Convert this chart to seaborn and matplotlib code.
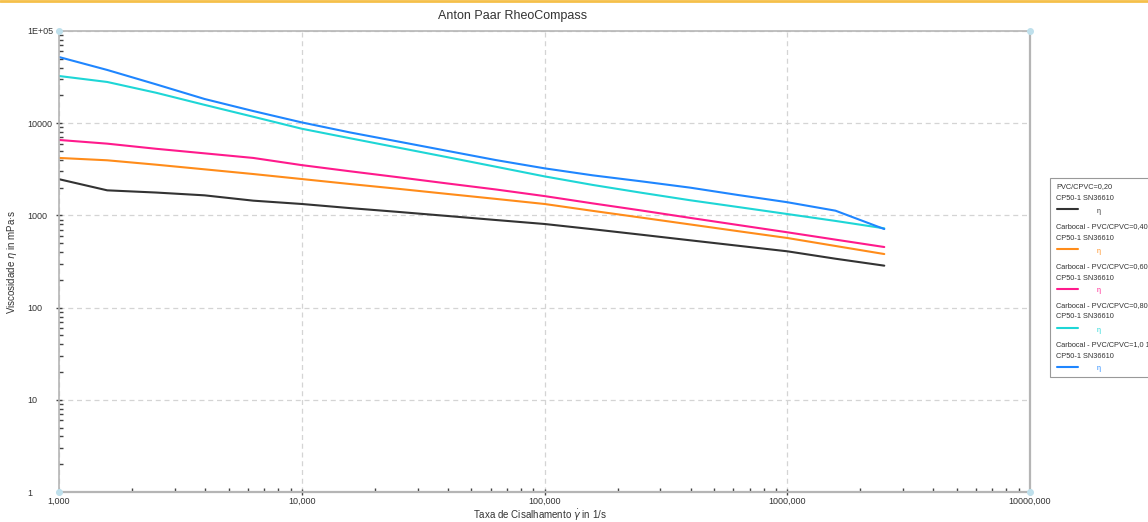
import numpy as np
import pandas as pd
import matplotlib
matplotlib.use("Agg")
import matplotlib.pyplot as plt
import matplotlib.ticker as mticker
from matplotlib.lines import Line2D
from matplotlib.patches import Rectangle
import seaborn as sns

# ---- data ----
shear_rate = [1.0, 1.58, 2.51, 3.98, 6.31, 10.0, 15.8, 25.1, 39.8, 63.1,
              100, 158, 251, 398, 631, 1000, 1580, 2510]
visc_020 = [2470, 1870, 1770, 1650, 1445, 1330, 1200, 1090, 986, 891,
            807, 708, 617, 537, 468, 408, 339, 285]
visc_040 = [4200, 3960, 3550, 3160, 2810, 2480, 2190, 1940, 1710, 1510,
            1330, 1120, 946, 798, 673, 569, 466, 381]
visc_060 = [6580, 6000, 5280, 4710, 4200, 3510, 3010, 2590, 2220, 1910,
            1620, 1350, 1130, 940, 785, 656, 546, 454]
visc_080 = [32500, 28000, 21400, 15800, 11750, 8710, 6870, 5420, 4280, 3370,
            2650, 2140, 1760, 1460, 1230, 1035, 871, 724]
visc_101 = [52200, 37800, 26400, 18300, 13550, 10200, 7940, 6310, 5010, 3980,
            3240, 2720, 2340, 2000, 1660, 1390, 1125, 711]

series_names = ["PVC/CPVC=0,20",
                "Carbocal - PVC/CPVC=0,40",
                "Carbocal - PVC/CPVC=0,60",
                "Carbocal - PVC/CPVC=0,80",
                "Carbocal - PVC/CPVC=1,0 1"]
series_colors = ["#333333", "#ff8c1a", "#ff1a8c", "#1ed6d6", "#1f86ff"]
x_tick_vals = [1, 10, 100, 1000, 10000]
x_tick_labels = ["1,000", "10,000", "100,000", "1000,000", "10000,000"]
y_tick_vals = [1, 10, 100, 1000, 10000, 100000]
y_tick_labels = ["1", "10", "100", "1000", "10000", "1E+05"]

frames = []
for name, vals in zip(series_names, [visc_020, visc_040, visc_060, visc_080, visc_101]):
    frames.append(pd.DataFrame({"rate": shear_rate, "visc": vals, "series": name}))
df = pd.concat(frames, ignore_index=True)

# ---- style ----
sns.set_theme(style="white")
plt.rcParams["font.family"] = ["Liberation Sans", "DejaVu Sans"]

W, H = 1148, 522
fig = plt.figure(figsize=(W / 100, H / 100), dpi=100)
ax = fig.add_axes([59 / W, 1 - 492 / H, (1030 - 59) / W, (492 - 31) / H])

sns.lineplot(data=df, x="rate", y="visc", hue="series", hue_order=series_names,
             palette=series_colors, ax=ax, linewidth=1.5, legend=False,
             estimator=None, sort=False)

ax.set_xscale("log")
ax.set_yscale("log")
ax.set_xlim(1, 10000)
ax.set_ylim(1, 100000)

ax.xaxis.set_major_locator(mticker.FixedLocator(x_tick_vals))
ax.xaxis.set_major_formatter(mticker.FixedFormatter(x_tick_labels))
ax.yaxis.set_major_locator(mticker.FixedLocator(y_tick_vals))
ax.yaxis.set_major_formatter(mticker.FixedFormatter(y_tick_labels))
ax.xaxis.set_minor_locator(mticker.LogLocator(base=10, subs=np.arange(2, 10)))
ax.yaxis.set_minor_locator(mticker.LogLocator(base=10, subs=np.arange(2, 10)))
ax.xaxis.set_minor_formatter(mticker.NullFormatter())
ax.yaxis.set_minor_formatter(mticker.NullFormatter())

ax.tick_params(axis="both", which="major", direction="inout", length=5, width=1,
               color="#444444", labelsize=6.5, labelcolor="#333333")
ax.tick_params(axis="x", which="major", pad=1)
# y labels are left-aligned at ~27 px in the reference
ax.tick_params(axis="y", which="major", pad=(59 - 27) * 0.72 - 2.5)
for lab in ax.get_yticklabels():
    lab.set_horizontalalignment("left")
ax.tick_params(axis="both", which="minor", direction="in", length=3, width=1,
               color="#444444")
ax.tick_params(axis="x", which="both", bottom=True, top=False)
ax.tick_params(axis="y", which="both", left=True, right=False)

ax.grid(True, which="major", linestyle=(0, (4, 3)), color="#d4d4d4", linewidth=0.9)
for side in ["left", "bottom", "top", "right"]:
    ax.spines[side].set_visible(True)
    ax.spines[side].set_color("#b5b5b5")
    ax.spines[side].set_linewidth(1.6 if side in ("bottom", "right") else 1.2)

ax.set_xlabel("Taxa de Cisalhamento $\\dot{\\gamma}$ in 1/s", fontsize=7, color="#333333")
ax.set_ylabel("Viscosidade $\\eta$ in mPa·s", fontsize=7, color="#333333")
ax.xaxis.set_label_coords((540 - 59) / (1030 - 59), -0.035)
ax.yaxis.set_label_coords(-(59 - 19) / (1030 - 59), (492 - 262) / (492 - 31))

# corner dots
for cx, cy in [(0, 0), (0, 1), (1, 1), (1, 0)]:
    ax.plot(cx, cy, "o", transform=ax.transAxes, clip_on=False, ms=4,
            color="#bfe0ec", zorder=5)

# title & top accent line
fig.text(513 / W, 1 - 16 / H, "Anton Paar RheoCompass", ha="center", va="center",
         fontsize=9, color="#333333")
fig.add_artist(Line2D([0, 1], [1 - 1 / H, 1 - 1 / H], transform=fig.transFigure,
                      color="#f5c04a", linewidth=2))

# legend box (drawn manually to match the layout)
fig.add_artist(Rectangle((1050 / W, 1 - 377 / H), (1160 - 1050) / W, (377 - 178) / H,
                         transform=fig.transFigure, facecolor="white",
                         edgecolor="#999999", linewidth=0.8, clip_on=False))
entry_tops = [187, 227, 267, 306, 345]
for name, col, top in zip(series_names, series_colors, entry_tops):
    fig.text(1056 / W, 1 - top / H, name, fontsize=5.3, color="#333333", va="center")
    fig.text(1056 / W, 1 - (top + 11) / H, "CP50-1 SN36610", fontsize=5.3,
             color="#333333", va="center")
    ly = 1 - (top + 22) / H
    fig.add_artist(Line2D([1057 / W, 1078 / W], [ly, ly], transform=fig.transFigure,
                          color=col, linewidth=1.5))
    fig.text(1097 / W, ly - 2 / H, "η", fontsize=5, color=col, va="center")

fig.savefig("out.png", dpi=100)
